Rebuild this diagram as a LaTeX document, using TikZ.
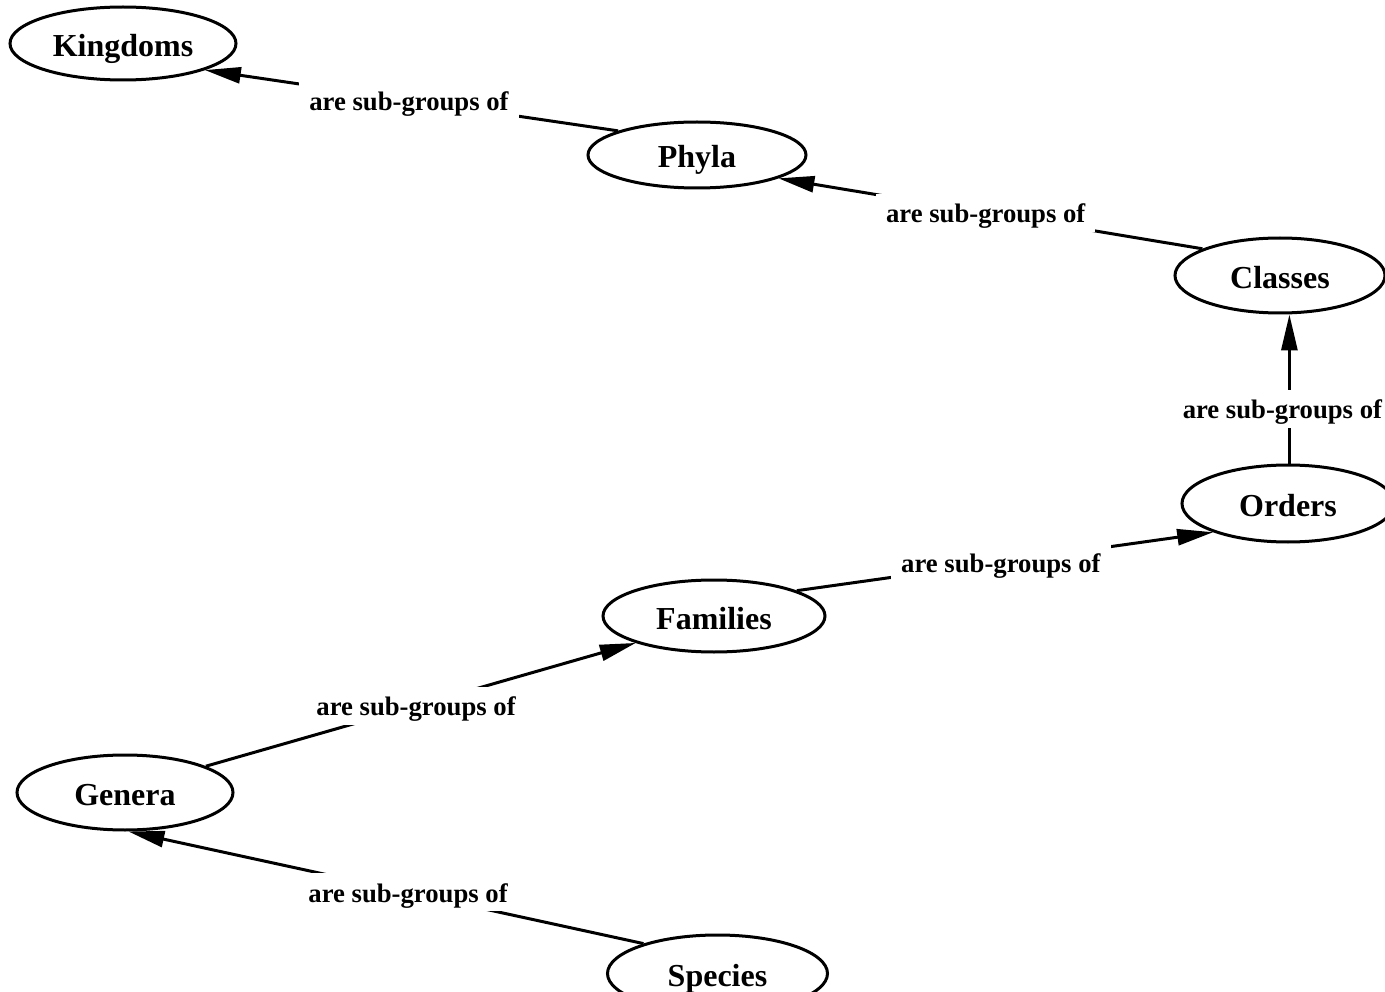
\documentclass[tikz,border=0pt]{standalone}
\usepackage{fontspec}
\setmainfont{Liberation Serif}
\usetikzlibrary{shapes.geometric,arrows.meta}
\begin{document}
\begin{tikzpicture}[x=1pt,y=-1pt,
  taxon/.style={ellipse, draw, line width=3pt, inner sep=0pt,
    font=\fontsize{32}{38}\selectfont\bfseries, text height=28pt, text depth=2pt},
  rel/.style={line width=3pt, -{Triangle[length=36pt,width=16pt]}},
  lbl/.style={fill=white, inner xsep=10pt, inner ysep=7pt,
    font=\fontsize{26.7}{32}\selectfont\bfseries, text height=22pt, text depth=2pt}]
  \useasboundingbox (0,0) rectangle (1385,992);

  % taxonomic ranks
  \node[taxon, minimum width=226pt, minimum height=73pt] (kingdoms) at (123,43.5) {Kingdoms};
  \node[taxon, minimum width=218pt, minimum height=66pt] (phyla) at (697,155) {Phyla};
  \node[taxon, minimum width=210pt, minimum height=75pt] (classes) at (1280,275.5) {Classes};
  \node[taxon, minimum width=212pt, minimum height=77pt] (orders) at (1288,503.5) {Orders};
  \node[taxon, minimum width=222pt, minimum height=72pt] (families) at (714,616) {Families};
  \node[taxon, minimum width=216pt, minimum height=75pt] (genera) at (125,792.5) {Genera};
  \node[taxon, minimum width=220pt, minimum height=77pt] (species) at (717.5,973.5) {Species};

  % "are sub-groups of" relations
  \draw[rel] (phyla.163) -- node[lbl, pos=0.506] {are sub-groups of} (kingdoms.-18);
  \draw[rel] (classes.161) -- node[lbl, pos=0.511] {are sub-groups of} (phyla.-16.5);
  \draw[rel] (orders.88) -- node[lbl, pos=0.368, xshift=-7pt] {are sub-groups of} (orders.88 |- classes.south);
  \draw[rel] (families.17.6) -- node[lbl, pos=0.49] {are sub-groups of} (orders.201.4);
  \draw[rel] (genera.18.8) -- node[lbl, pos=0.489] {are sub-groups of} (families.199.5);
  \draw[rel] (species.158.4) -- node[lbl, pos=0.457] {are sub-groups of} (genera.-85.4);
\end{tikzpicture}
\end{document}
